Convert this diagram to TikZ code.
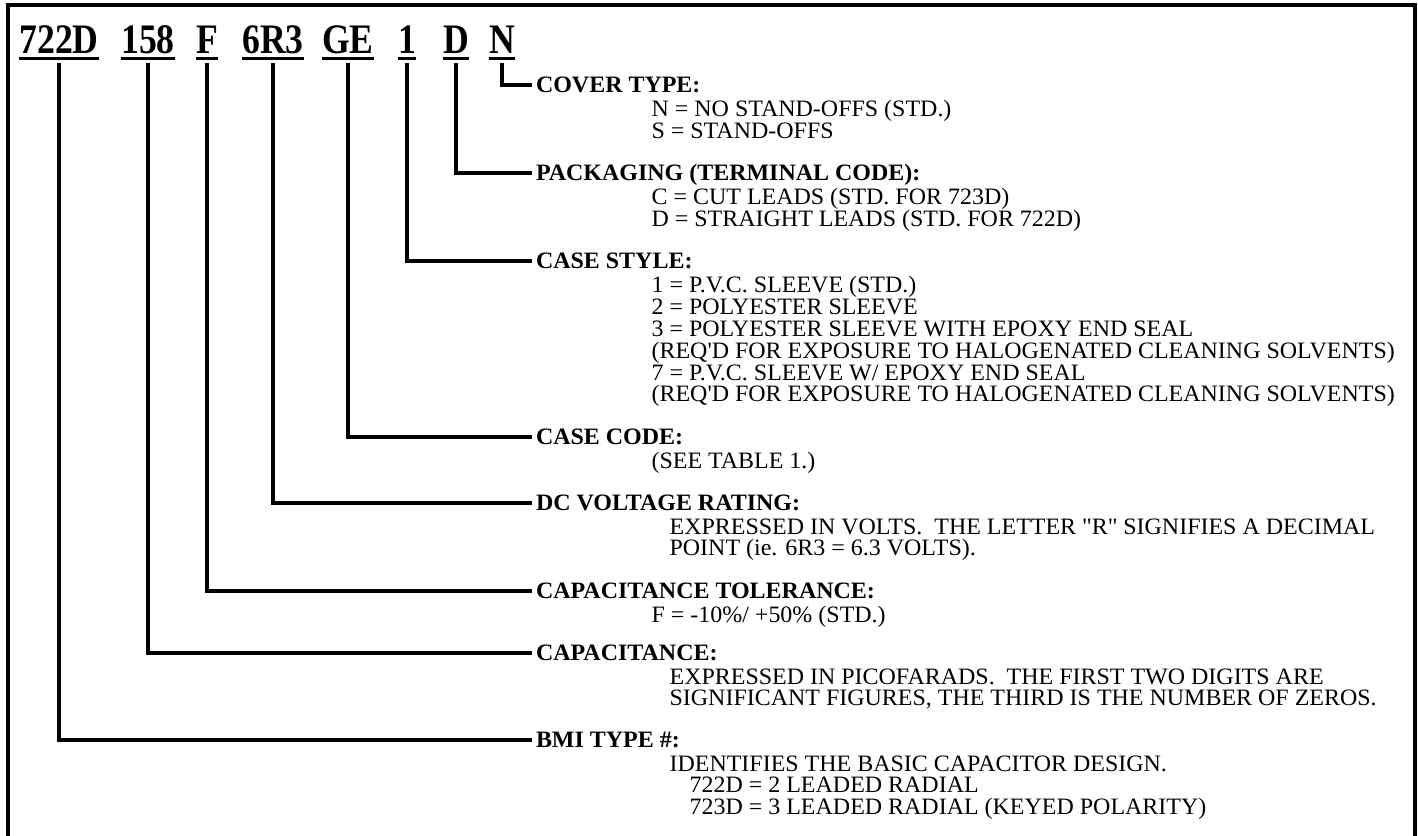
\documentclass[tikz,border=0pt]{standalone}
\usepackage{fontspec}
\setmainfont[FakeStretch=1.02]{Liberation Serif}
\newfontfamily\codefont[FakeStretch=0.85]{Liberation Serif}
\usetikzlibrary{positioning}
\newcommand{\ulcode}[1]{\setbox0=\hbox{#1}\rlap{\vrule height -2pt depth 3.5pt width \wd0}\box0}
\tikzset{
  every picture/.style={x=0.5pt, y=-0.5pt, line width=1.6pt},
  frame/.style={draw, line width=1.6pt},
  code/.style={font=\codefont\fontsize{21}{22}\selectfont\bfseries, inner sep=0pt, outer ysep=1.5pt, anchor=base},
  head/.style={font=\fontsize{11.75}{10.9}\selectfont\bfseries, anchor=west, inner sep=0pt, outer xsep=2pt, text height=7.8pt, text depth=0pt},
  body/.style={font=\fontsize{11.75}{10.9}\selectfont, align=left, anchor=north west, inner sep=0pt},
  lead/.style={draw, line width=1.6pt},
}
\begin{document}
\begin{tikzpicture}
  \useasboundingbox (0,0) rectangle (1418,835);
  \draw[frame] (8,840) |- (1415,5) -- (1415,840);
  % part number, one underlined field per code
  \foreach \i/\x/\t in {1/59/722D, 2/148/158, 3/207/F, 4/273/6R3, 5/348/GE, 6/407/1, 7/456/D, 8/502/N}
    \node[code] (c\i) at (\x,53) {\ulcode{\t}};
  % field headings
  \foreach \i/\y/\t in {8/85/{COVER TYPE:}, 7/173/{PACKAGING (TERMINAL CODE):}, 6/261/{CASE STYLE:},
      5/437/{CASE CODE:}, 4/503/{DC VOLTAGE RATING:}, 3/591/{CAPACITANCE TOLERANCE:},
      2/653/{CAPACITANCE:}, 1/740/{BMI TYPE \#:}}
    \node[head] (h\i) at (532,\y) {\t};
  \foreach \i in {1,...,8} \draw[lead] (c\i.south) |- (h\i.west);
  % explanations
  \node[body] (b8) at (650,99) {N = NO STAND-OFFS (STD.)\\S = STAND-OFFS};
  \node[body] (b7) at (650,187) {C = CUT LEADS (STD. FOR 723D)\\D = STRAIGHT LEADS (STD. FOR 722D)};
  \node[body] (b6) at (650,275) {1 = P.V.C. SLEEVE (STD.)\\2 = POLYESTER SLEEVE\\3 = POLYESTER SLEEVE WITH EPOXY END SEAL\\
    (REQ\textquotesingle D FOR EXPOSURE TO HALOGENATED CLEANING SOLVENTS)\\7 = P.V.C. SLEEVE W/ EPOXY END SEAL\\
    (REQ\textquotesingle D FOR EXPOSURE TO HALOGENATED CLEANING SOLVENTS)};
  \node[body] (b5) at (650,451) {(SEE TABLE 1.)};
  \node[body] (b4) at (668,517) {EXPRESSED IN VOLTS.\ \ THE LETTER \textquotedbl R\textquotedbl\ SIGNIFIES A DECIMAL\\POINT (ie. 6R3 = 6.3 VOLTS).};
  \node[body] (b3) at (650,605) {F = -10\%/ +50\% (STD.)};
  \node[body] (b2) at (668,667) {EXPRESSED IN PICOFARADS.\ \ THE FIRST TWO DIGITS ARE\\SIGNIFICANT FIGURES, THE THIRD IS THE NUMBER OF ZEROS.};
  \node[body] (b1) at (668,754) {IDENTIFIES THE BASIC CAPACITOR DESIGN.\\\hspace*{10pt}722D = 2 LEADED RADIAL\\\hspace*{10pt}723D = 3 LEADED RADIAL (KEYED POLARITY)};
\end{tikzpicture}
\end{document}
